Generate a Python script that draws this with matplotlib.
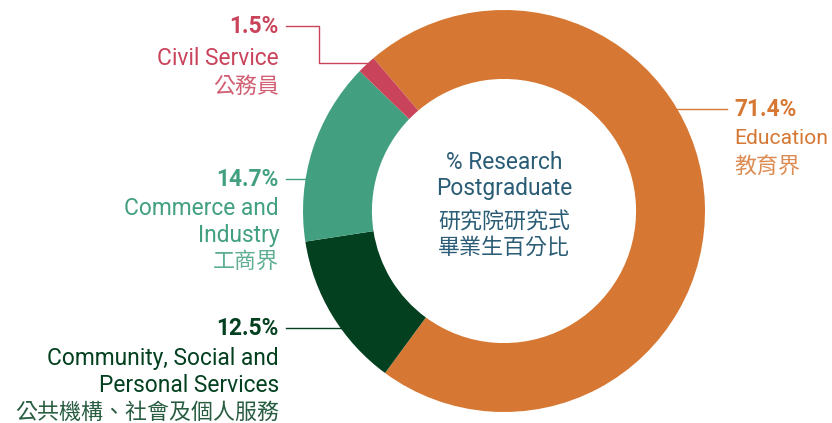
import matplotlib
matplotlib.use("Agg")
import matplotlib.pyplot as plt
import numpy as np

# ---- data ----
categories = ["Education", "Community, Social and\nPersonal Services", "Commerce and\nIndustry", "Civil Service"]
categories_zh = ["教育界", "公共機構、社會及個人服務", "工商界", "公務員"]
values = [71.4, 12.5, 14.7, 1.5]
pct_labels = ["71.4%", "12.5%", "14.7%", "1.5%"]
colors = ["#D67834", "#02401F", "#42A081", "#C9435A"]
center_lines = ["% Research", "Postgraduate", "研究院研究式", "畢業生百分比"]

W, H = 832, 423
fig = plt.figure(figsize=(W / 100, H / 100), dpi=100)
ax = fig.add_axes([0, 0, 1, 1])
ax.set_xlim(0, W)
ax.set_ylim(0, H)
ax.set_aspect("equal")
ax.axis("off")

cx, cy, R = 504, H - 211, 201
ax.pie(values, colors=colors, startangle=130.5, counterclock=False,
       center=(cx, cy), radius=R, wedgeprops=dict(width=R * 0.343, linewidth=0),
       frame=True)
ax.set_xlim(0, W)
ax.set_ylim(0, H)
ax.axis("off")

LAT = ["Roboto", "Noto Sans CJK TC", "DejaVu Sans"]
CJK = ["Noto Sans CJK TC", "DejaVu Sans"]
FS = 16.4
FS_ZH = 15.8


def Y(p):
    return H - p


def edge_x(ypx, side=-1):
    dy = cy - Y(ypx)
    return cx + side * np.sqrt(R ** 2 - dy ** 2)


def label_block(x, ys, pct, name, zh, color, ha, fs=FS):
    ax.text(x, Y(ys[0]), pct, color=color, fontsize=FS, fontweight="bold",
            family=LAT, ha=ha, va="center")
    lines = name.split("\n")
    for i, ln in enumerate(lines):
        ax.text(x, Y(ys[1 + i]), ln, color=color, fontsize=fs, family=LAT,
                ha=ha, va="center")
    ax.text(x, Y(ys[1 + len(lines)]), zh, color=color, fontsize=FS_ZH,
            family=CJK, fontweight="light", ha=ha, va="center", alpha=0.85)


# Education (right)
label_block(734, [109, 138, 167], pct_labels[0], categories[0], categories_zh[0], colors[0], "left", fs=15.2)
ax.plot([edge_x(109, +1) - 8, 727], [Y(109), Y(109)], color=colors[0], lw=1.0)

# Community (lower left)
label_block(279, [328, 358, 385, 413], pct_labels[1], categories[1], categories_zh[1], colors[1], "right")
ax.plot([286, edge_x(328) + 8], [Y(328), Y(328)], color=colors[1], lw=1.0)

# Commerce (left)
label_block(279, [179, 208, 235, 262], pct_labels[2], categories[2], categories_zh[2], colors[2], "right")
ax.plot([286, edge_x(179) + 6], [Y(179), Y(179)], color=colors[2], lw=1.0)

# Civil Service (top left)
label_block(279, [26, 58, 87], pct_labels[3], categories[3], categories_zh[3], colors[3], "right")
ax.plot([286, 319, 319, 372], [Y(26), Y(26), Y(63), Y(63)], color=colors[3], lw=1.0)

# center text
cc = "#2B5D76"
ax.text(cx, Y(162), center_lines[0], color=cc, fontsize=FS, family=LAT, ha="center", va="center")
ax.text(cx, Y(188), center_lines[1], color=cc, fontsize=FS, family=LAT, ha="center", va="center")
ax.text(cx, Y(222), center_lines[2], color=cc, fontsize=FS_ZH, family=CJK, fontweight="light", ha="center", va="center")
ax.text(cx, Y(248), center_lines[3], color=cc, fontsize=FS_ZH, family=CJK, fontweight="light", ha="center", va="center")

fig.savefig("out.png", dpi=100)
